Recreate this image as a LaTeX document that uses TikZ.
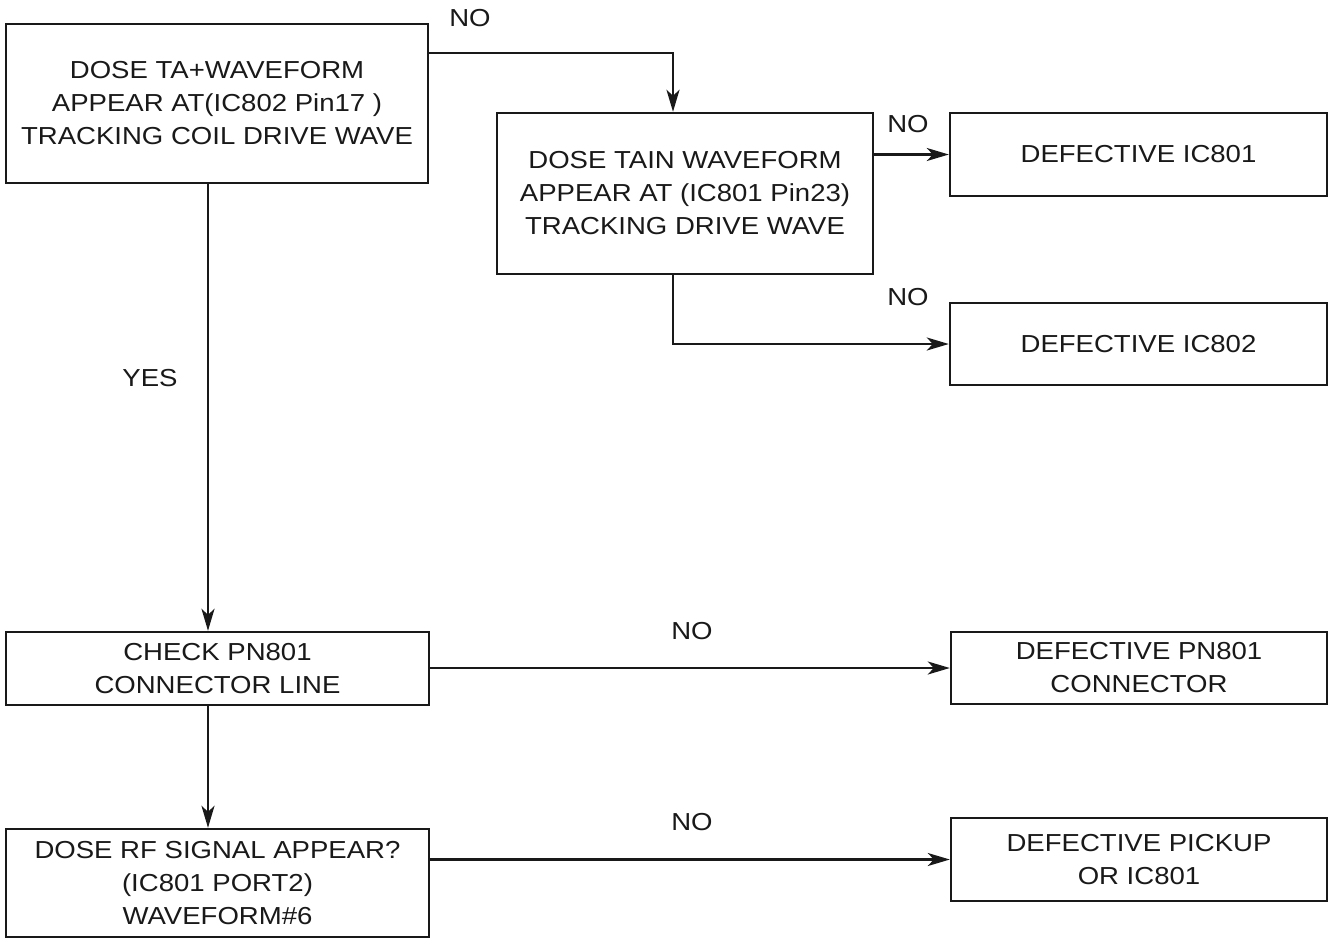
\documentclass[tikz,border=0pt]{standalone}
\usepackage{fontspec}
\setmainfont[FakeStretch=1.12]{Liberation Sans}
\usetikzlibrary{arrows.meta}
\begin{document}
\begin{tikzpicture}[x=1pt,y=-1pt,
  box/.style={draw=black!90,line width=2.4pt,rectangle,inner sep=0pt,align=center,
    font=\fontsize{24.6}{33}\selectfont,text=black!90},
  lbl/.style={font=\fontsize{24.6}{33}\selectfont,text=black!90,inner sep=0pt},
  arr/.style={line width=2.4pt,draw=black!90,-{Stealth[length=22pt,width=13pt,inset=6pt]}},
  ln/.style={line width=2.4pt,draw=black!90}]
\useasboundingbox (0,0) rectangle (1330,938);
\node[box,minimum width=422pt,minimum height=159pt] (A) at (217,103.5)
  {DOSE TA+WAVEFORM\\APPEAR AT(IC802 Pin17 )\\TRACKING COIL DRIVE WAVE};
\node[box,minimum width=376pt,minimum height=161pt] (B) at (685,193.5)
  {DOSE TAIN WAVEFORM\\APPEAR AT (IC801 Pin23)\\TRACKING DRIVE WAVE};
\node[box,minimum width=377pt,minimum height=83pt] (C) at (1138.5,154.5)
  {DEFECTIVE IC801};
\node[box,minimum width=377pt,minimum height=82pt] (D) at (1138.5,344)
  {DEFECTIVE IC802};
\node[box,minimum width=423pt,minimum height=73pt] (E) at (217.5,668.5)
  {CHECK PN801\\CONNECTOR LINE};
\node[box,minimum width=376pt,minimum height=72pt] (F) at (1139,668)
  {DEFECTIVE PN801\\CONNECTOR};
\node[box,minimum width=423pt,minimum height=108pt] (G) at (217.5,883)
  {DOSE RF SIGNAL APPEAR?\\(IC801 PORT2)\\WAVEFORM\#6};
\node[box,minimum width=376pt,minimum height=83pt] (H) at (1139,859.5)
  {DEFECTIVE PICKUP\\OR IC801};
\coordinate (t1) at (0,53);
\coordinate (bx) at (673,0);
\coordinate (ax) at (208,0);
\draw[arr] (A.east |- t1) -| (bx |- B.north);
\draw[arr] (B.east |- C.west) -- (C.west);
\draw[arr] (bx |- B.south) |- (D.west);
\draw[arr] (ax |- A.south) -- (ax |- E.north);
\draw[arr] (E.east |- F.west) -- (F.west);
\draw[arr] (ax |- E.south) -- (ax |- G.north);
\draw[arr] (G.east |- H.west) -- (H.west);
\node[lbl] (n1) at (470,18) {NO};
\node[lbl] (n2) at (908,124) {NO};
\node[lbl] (n3) at (908,297) {NO};
\node[lbl] (n4) at (692,631) {NO};
\node[lbl] (n5) at (692,822) {NO};
\node[lbl] (y1) at (150,378) {YES};
\end{tikzpicture}
\end{document}
